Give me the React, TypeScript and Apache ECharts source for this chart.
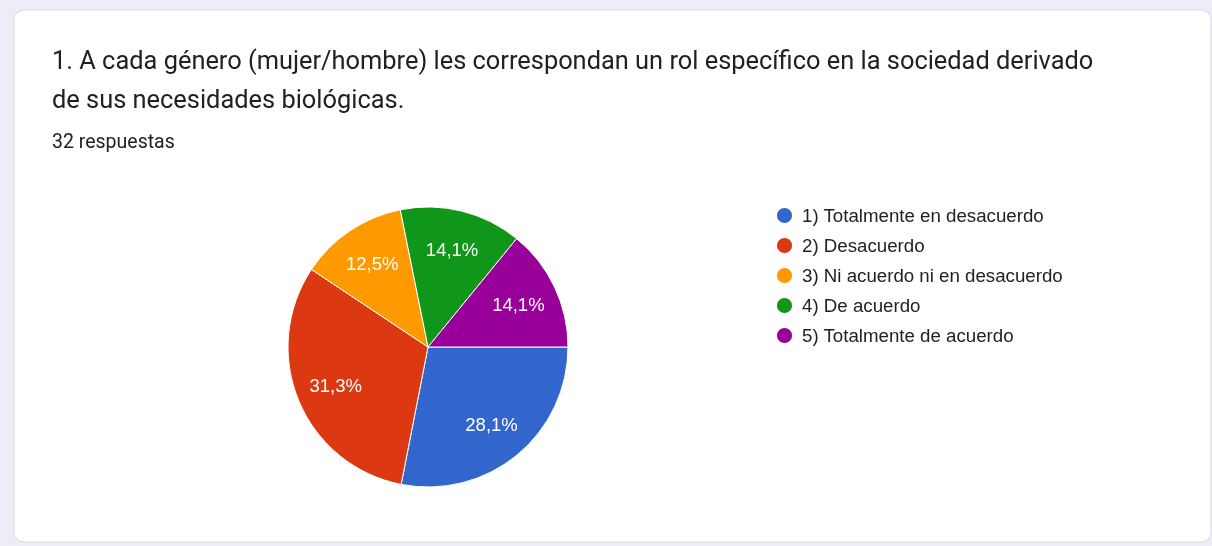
import React, { useEffect, useRef } from "react";
import * as echarts from "echarts";

const titleText = "1. A cada género (mujer/hombre) les correspondan un rol específico en la sociedad derivado\nde sus necesidades biológicas.";
const subtitleText = "32 respuestas";
const categories = [
  "1) Totalmente en desacuerdo",
  "2) Desacuerdo",
  "3) Ni acuerdo ni en desacuerdo",
  "4) De acuerdo",
  "5) Totalmente de acuerdo",
];
const percentages = [28.1, 31.3, 12.5, 14.1, 14.1];
const colors = ["#3366cc", "#dc3912", "#ff9900", "#109618", "#990099"];

export default function App() {
  const ref = useRef<HTMLDivElement>(null);
  useEffect(() => {
    if (!ref.current) return;
    const chart = echarts.init(ref.current, null, { renderer: "svg" });
    const data = categories.map((name, i) => ({
      name,
      value: percentages[i],
      itemStyle: { color: colors[i] },
    }));
    chart.setOption({
      animation: false,
      graphic: [
        { type: "rect", shape: { x: 0, y: 0, width: 1212, height: 546 }, style: { fill: "#efebf7" }, z: -10 },
        {
          type: "rect",
          shape: { x: 14, y: 10, width: 1197, height: 532, r: 10 },
          style: { fill: "#ffffff", stroke: "#dadce0", lineWidth: 1 },
          z: -9,
        },
      ],
      title: [
        {
          text: titleText,
          left: 52,
          top: 40,
          padding: 0,
          textStyle: { fontFamily: "Roboto", fontSize: 25.4, fontWeight: "normal", color: "#202124", lineHeight: 39 },
        },
        {
          text: subtitleText,
          left: 52,
          top: 130,
          padding: 0,
          textStyle: { fontFamily: "Roboto", fontSize: 19.5, fontWeight: "normal", color: "#202124", lineHeight: 22 },
        },
      ],
      legend: {
        orient: "vertical",
        left: 775,
        top: 206,
        padding: 0,
        icon: "circle",
        itemWidth: 17,
        itemHeight: 17,
        itemGap: 11,
        selectedMode: false,
        data: categories,
        textStyle: { fontFamily: "Liberation Sans", fontSize: 18.7, color: "#222222", lineHeight: 17, padding: [0, 0, 0, 4] },
      },
      series: [
        {
          type: "pie",
          center: [428, 347],
          radius: 140,
          startAngle: 0,
          clockwise: true,
          label: { show: false },
          labelLine: { show: false },
          itemStyle: { borderColor: "#ffffff", borderWidth: 1 },
          emphasis: { disabled: true },
          data,
        },
        {
          type: "pie",
          center: [428, 347],
          radius: [54, 140],
          startAngle: 0,
          clockwise: true,
          silent: true,
          legendHoverLink: false,
          itemStyle: { color: "rgba(0,0,0,0)" },
          label: {
            show: true,
            position: "inside",
            fontFamily: "Liberation Sans",
            fontSize: 18.5,
            color: "#ffffff",
            formatter: (p: any) => p.value.toFixed(1).replace(".", ",") + "%",
          },
          labelLine: { show: false },
          emphasis: { disabled: true },
          data: categories.map((name, i) => ({ name: name + " ", value: percentages[i] })),
        },
      ],
    });
    return () => chart.dispose();
  }, []);
  return <div ref={ref} style={{ position: "fixed", left: 0, top: 0, width: 1212, height: 546 }} />;
}
